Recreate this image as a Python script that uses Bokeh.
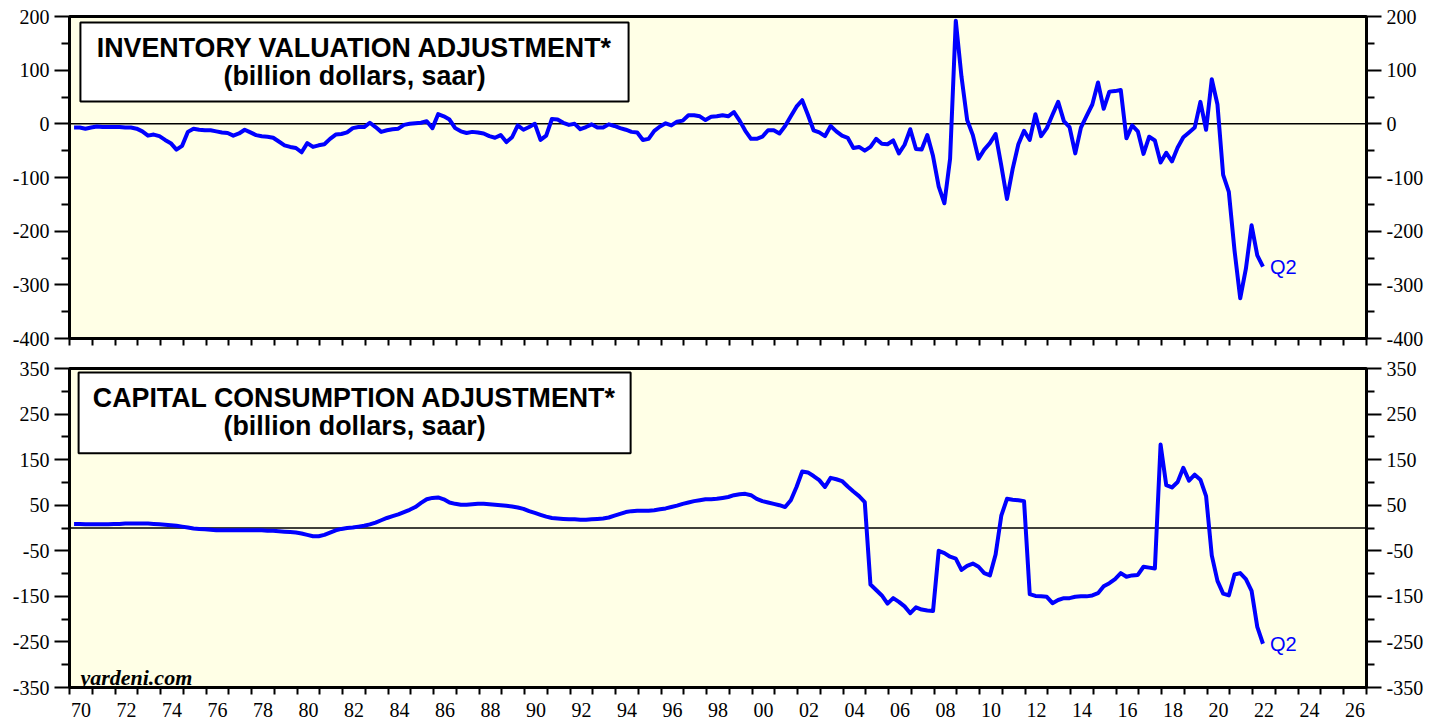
from bokeh.plotting import figure
from bokeh.models import (Range1d, LinearAxis, FixedTicker, CustomJSTickFormatter,
                          Span, BoxAnnotation, Label, ColumnDataSource)
from bokeh.layouts import column
from bokeh.embed import file_html
from bokeh.resources import INLINE

# ---------------- data (quarterly, 1970Q1 .. 2022Q2) ----------------
START_YEAR = 1970
LAST_LABEL = "Q2"

iva_1970s = [-7, -7, -9, -7,  -5, -6, -6, -6,  -6, -7, -7, -9,  -14, -22, -20, -23,
             -30, -36, -48, -41,  -15, -9, -11, -12,  -12, -14, -16, -17,  -22, -18, -11, -16,
             -21, -23, -24, -26,  -33, -40, -43, -45]
iva_1980s = [-53, -36, -43, -40,  -38, -28, -20, -19,  -16, -8, -6, -6,  2, -6, -15, -12,
             -10, -9, -2, 0,  1, 2, 5, -8,  18, 14, 8, -8,  -14, -17, -15, -16,
             -18, -23, -26, -21,  -34, -25, -3, -11]
iva_1990s = [-6, 0, -30, -22,  9, 8, 2, -2,  0, -10, -6, -1,  -7, -7, -1, -4,
             -8, -11, -15, -16,  -30, -28, -13, -5,  1, -3, 4, 6,  16, 16, 14, 7,
             13, 14, 16, 14,  22, 6, -13, -28]
iva_2000s = [-28, -24, -12, -12,  -18, -4, 14, 32,  44, 17, -12, -16,  -23, -4, -14, -22,
             -26, -45, -43, -50,  -43, -28, -37, -38,  -31, -55, -39, -10,  -47, -48, -21, -60,
             -117, -148, -65, 192,  88, 7, -21, -65]
iva_2010s = [-48, -36, -19, -78,  -140, -84, -38, -13,  -30, 18, -23, -8,  17, 41, 5, -6,
             -55, -7, 15, 36,  77, 28, 60, 61,  63, -27, -3, -14,  -56, -24, -31, -72,
             -54, -70, -44, -25,  -16, -7, 41, -11]
iva_2020s = [83, 36, -95, -127,  -236, -325, -270, -189,  -245, -266]

cca_1970s = [9, 9, 8, 8,  8, 8, 8, 9,  9, 10, 10, 10,  10, 10, 9, 8,
             7, 6, 5, 3,  1, -1, -2, -3,  -4, -5, -5, -5,  -5, -5, -5, -5,
             -5, -5, -6, -6,  -7, -8, -9, -10]
cca_1980s = [-12, -15, -18, -18,  -15, -10, -5, -2,  0, 1, 3, 5,  8, 12, 17, 22,
             26, 30, 35, 40,  46, 55, 63, 66,  67, 63, 56, 53,  51, 51, 52, 53,
             53, 52, 51, 50,  49, 47, 45, 42]
cca_1990s = [37, 33, 29, 25,  22, 21, 20, 19,  19, 18, 18, 19,  20, 21, 23, 27,
             31, 35, 37, 38,  38, 38, 39, 41,  43, 46, 49, 53,  56, 59, 61, 63,
             63, 64, 66, 68,  72, 74, 75, 72]
cca_2000s = [64, 59, 56, 53,  50, 46, 61, 90,  124, 122, 114, 105,  90, 110, 107, 103,
             91, 80, 70, 57,  -124, -136, -148, -166,  -154, -162, -172, -187,  -174, -179, -181, -182,
             -50, -55, -63, -67,  -92, -83, -78, -85]
cca_2010s = [-99, -104, -58, 27,  64, 62, 61, 59,  -145, -149, -150, -151,  -165, -158, -154, -154,
             -151, -150, -150, -148,  -143, -128, -121, -112,  -99, -107, -104, -103,  -85, -87, -89, 183,
             94, 89, 101, 132,  104, 117, 106, 70]
cca_2020s = [-60, -116, -144, -148,  -102, -99, -112, -138,  -217, -254]

iva = iva_1970s + iva_1980s + iva_1990s + iva_2000s + iva_2010s + iva_2020s
cca = cca_1970s + cca_1980s + cca_1990s + cca_2000s + cca_2010s + cca_2020s
dates = [START_YEAR + 0.25 * i + 0.2 for i in range(len(iva))]

year_ticks = list(range(1970, 2028))
label_years = list(range(1970, 2027, 2))

top_title = "INVENTORY VALUATION ADJUSTMENT*"
bottom_title = "CAPITAL CONSUMPTION ADJUSTMENT*"
subtitle = "(billion dollars, saar)"
credit = "yardeni.com"

top_major = [-400, -300, -200, -100, 0, 100, 200]
top_minor = [-350, -250, -150, -50, 50, 150]
bot_major = [-350, -250, -150, -50, 50, 150, 250, 350]
bot_minor = [-300, -200, -100, 0, 100, 200, 300]

# ---------------- styling ----------------
BG = "#FFFFE6"
BLUE = "#0000FF"
SERIF = "Liberation Serif"
SANS = "Liberation Sans"
TITLE_SIZE = "26.8px"

x_range = Range1d(1970, 2027)


def style_y_axis(ax):
    ax.axis_line_width = 3
    ax.axis_line_color = "black"
    ax.major_tick_line_width = 2
    ax.minor_tick_line_width = 2
    ax.major_tick_out = 15
    ax.major_tick_in = 0
    ax.minor_tick_out = 8
    ax.minor_tick_in = 0
    ax.major_label_text_font = SERIF
    ax.major_label_text_font_size = "20px"
    ax.major_label_text_color = "black"
    ax.major_label_standoff = 5


def make_panel(ymin, ymax, major, minor, height, top_border, bottom_border, show_x_labels):
    p = figure(width=1440, height=height, x_range=x_range, y_range=Range1d(ymin, ymax),
               output_backend="svg", toolbar_location=None,
               x_axis_type=None, y_axis_type=None,
               min_border_left=69, min_border_right=74, min_border_top=top_border,
               min_border_bottom=bottom_border,
               background_fill_color=BG, border_fill_color="white",
               outline_line_color="black", outline_line_width=3)
    for side in ("left", "right"):
        ax = LinearAxis(ticker=FixedTicker(ticks=major, minor_ticks=minor),
                        formatter=CustomJSTickFormatter(code="return String(Math.round(tick));"))
        style_y_axis(ax)
        p.add_layout(ax, side)
    xt = FixedTicker(ticks=[y + 0.5 for y in label_years], minor_ticks=year_ticks)
    if show_x_labels:
        fmt = CustomJSTickFormatter(code="return String(Math.floor(tick) % 100).padStart(2, '0');")
    else:
        fmt = CustomJSTickFormatter(code="return '';")
    xa = LinearAxis(ticker=xt, formatter=fmt)
    xa.axis_line_width = 3
    xa.axis_line_color = "black"
    xa.major_tick_out = 0
    xa.major_tick_in = 0
    xa.minor_tick_out = 7
    xa.minor_tick_in = 0
    xa.minor_tick_line_width = 2
    xa.major_label_text_font = SERIF
    xa.major_label_text_color = "black"
    if show_x_labels:
        xa.major_label_text_font_size = "20px"
        xa.major_label_standoff = 8
    else:
        xa.major_label_text_font_size = "0px"
        xa.major_label_standoff = 0
    p.add_layout(xa, "below")
    p.add_layout(Span(location=0, dimension="width", line_color="black",
                      line_width=1.5, level="underlay"))
    return p


def title_box(p, left, right, bottom, top):
    p.add_layout(BoxAnnotation(left=left, right=right, bottom=bottom, top=top,
                               fill_color="white", fill_alpha=1, line_color="black",
                               line_alpha=1, line_width=2))


def text_label(p, x, y, text, size=TITLE_SIZE, style="bold", align="center",
               font=SANS, color="black", baseline="middle", x_offset=0):
    p.add_layout(Label(x=x, y=y, text=text, text_align=align, text_baseline=baseline,
                       text_font=font, text_font_style=style, text_font_size=size,
                       text_color=color, x_offset=x_offset))


# ---------------- top panel ----------------
p1 = make_panel(-400, 200, top_major, top_minor, 352, 16, 14, False)
src1 = ColumnDataSource(dict(x=dates, y=iva))
p1.line("x", "y", source=src1, line_color=BLUE, line_width=4, line_join="round")
title_box(p1, 1970.48, 1994.57, 41.6, 188.8)
text_label(p1, 1982.53, 140.4, top_title)
text_label(p1, 1982.53, 88.2, subtitle)
text_label(p1, dates[-1], iva[-1], LAST_LABEL, size="20px", style="normal",
           align="left", color=BLUE, x_offset=7)

# ---------------- bottom panel ----------------
p2 = make_panel(-350, 350, bot_major, bot_minor, 367, 16, 31, True)
src2 = ColumnDataSource(dict(x=dates, y=cca))
p2.line("x", "y", source=src2, line_color=BLUE, line_width=4, line_join="round")
title_box(p2, 1970.4, 1994.66, 164.1, 341.2)
text_label(p2, 1982.53, 284.4, bottom_title)
text_label(p2, 1982.53, 223.1, subtitle)
text_label(p2, 1970.48, -328, credit, size="22px", style="bold italic", align="left",
           font=SERIF, baseline="alphabetic")
text_label(p2, dates[-1], cca[-1], LAST_LABEL, size="20px", style="normal",
           align="left", color=BLUE, x_offset=7)

layout = column(p1, p2, spacing=0)
open("out.html", "w").write(file_html(layout, INLINE))
